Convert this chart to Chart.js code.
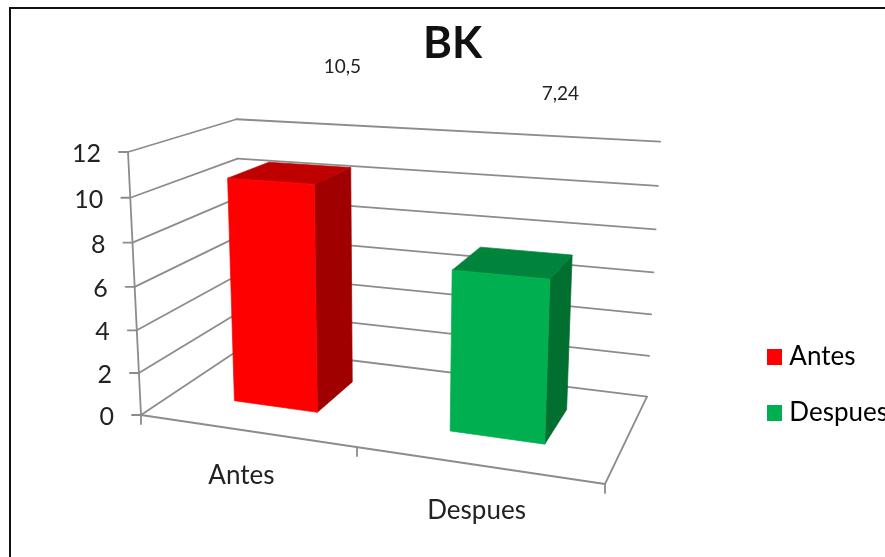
<!DOCTYPE html>
<html>
<head>
<meta charset="utf-8">
<style>
  html, body { margin: 0; padding: 0; background: #fff; overflow: hidden; }
  #wrap { position: relative; width: 885px; height: 557px; }
</style>
<script src="https://cdn.jsdelivr.net/npm/chart.js@4/dist/chart.umd.js"></script>
</head>
<body>
<div id="wrap"><canvas id="chart" width="885" height="557"></canvas></div>
<script>
// Chart content
const chartTitle = 'BK';
const categories = ['Antes', 'Despues'];
const values = [10.5, 7.24];
const axisMin = 0;
const axisMax = 12;
const axisStep = 2;

// Colours per category: front face, top face, side face
const frontColors = ['#FF0000', '#00B050'];
const topColors = ['#BE0000', '#00843C'];
const sideColors = ['#A00000', '#006F2F'];

// Offset of each free-floating value label from the centre of its bar's top face
const valueLabelOffsets = [[52, -106], [47, -169]];
// Offset of each category label from its point on the floor's front edge
const categoryLabelOffsets = [[-4, 45], [0, 46]];

const FONT = 'Lato, "Open Sans", sans-serif';
const TEXT = '#222222';
const LINE = '#8C8C8C';

// Perspective box: the plot's unit cube (u along categories, v along values,
// d into the page) is mapped to the page by a projective transform.
const box = {
  origin: [141, 415], uEnd: [605, 484], vEnd: [128, 152], dEnd: [243, 347],
  wu: 0.871, wv: 0.95, wd: 1.162
};
const barDepth = [0.30, 0.715];

function project(u, v, d) {
  const { origin: o, uEnd: a, vEnd: b, dEnd: c, wu, wv, wd } = box;
  const w = 1 + u * (wu - 1) + v * (wv - 1) + d * (wd - 1);
  const axis = i => (o[i] + u * (wu * a[i] - o[i]) + v * (wv * b[i] - o[i]) + d * (wd * c[i] - o[i])) / w;
  return [axis(0), axis(1)];
}

let plotArea = null;
const toU = px => (px - plotArea.left) / plotArea.width;
const toV = py => (plotArea.bottom - py) / plotArea.height;

function polygon(ctx, points, fill) {
  ctx.beginPath();
  points.forEach((p, i) => (i ? ctx.lineTo(p[0], p[1]) : ctx.moveTo(p[0], p[1])));
  ctx.closePath();
  ctx.fillStyle = fill;
  ctx.strokeStyle = fill;
  ctx.lineWidth = 0.7;
  ctx.lineJoin = 'round';
  ctx.fill();
  ctx.stroke();
}

function segment(ctx, p, q) {
  ctx.beginPath();
  ctx.moveTo(p[0], p[1]);
  ctx.lineTo(q[0], q[1]);
  ctx.stroke();
}

// A bar element that draws itself as a prism inside the perspective box
class PrismBar extends Chart.BarElement {
  static id = 'prismBar';
  static defaults = Chart.BarElement.defaults;
  draw(ctx) {
    const u0 = toU(this.x - this.width / 2), u1 = toU(this.x + this.width / 2);
    const v0 = toV(this.base), v1 = toV(this.y);
    const [d0, d1] = barDepth;
    const index = frontColors.indexOf(this.options.backgroundColor);
    ctx.save();
    polygon(ctx, [project(u1, v0, d0), project(u1, v0, d1), project(u1, v1, d1), project(u1, v1, d0)], sideColors[index]);
    polygon(ctx, [project(u0, v1, d0), project(u1, v1, d0), project(u1, v1, d1), project(u0, v1, d1)], topColors[index]);
    polygon(ctx, [project(u0, v0, d0), project(u1, v0, d0), project(u1, v1, d0), project(u0, v1, d0)], frontColors[index]);
    ctx.restore();
  }
}

class PrismBarController extends Chart.BarController {
  static id = 'prismBars';
  static defaults = { ...Chart.BarController.defaults, dataElementType: 'prismBar' };
}

Chart.register(PrismBar, PrismBarController);

// Small square legend marker
function legendSwatch(color) {
  const c = document.createElement('canvas');
  c.width = 15;
  c.height = 16;
  const g = c.getContext('2d');
  g.fillStyle = color;
  g.fillRect(0, 0, 15, 16);
  return c;
}

// Walls, floor, axes and their labels, all placed from the chart's scales
const perspectiveBox = {
  id: 'perspectiveBox',
  beforeDraw(chart) {
    plotArea = chart.chartArea;
    const ctx = chart.ctx;
    ctx.save();
    ctx.strokeStyle = '#111';
    ctx.lineWidth = 2;
    ctx.beginPath();
    ctx.moveTo(10, chart.height);
    ctx.lineTo(10, 8);
    ctx.lineTo(chart.width, 8);
    ctx.stroke();
    ctx.restore();
  },
  beforeDatasetsDraw(chart) {
    const ctx = chart.ctx, x = chart.scales.x, y = chart.scales.y;
    ctx.save();
    ctx.strokeStyle = LINE;
    ctx.lineWidth = 1.8;
    ctx.lineCap = 'round';
    ctx.lineJoin = 'round';

    ctx.fillStyle = TEXT;
    ctx.font = '25px ' + FONT;
    ctx.textAlign = 'right';
    ctx.textBaseline = 'middle';
    y.ticks.forEach(tick => {
      const v = toV(y.getPixelForValue(tick.value));
      const front = project(0, v, 0);
      // wall gridline: side wall, then back wall
      segment(ctx, front, project(0, v, 1));
      segment(ctx, project(0, v, 1), project(1, v, 1));
      segment(ctx, [front[0] - 9, front[1]], front);
      ctx.fillText(String(tick.value), front[0] - 27, front[1] + 2);
    });
    segment(ctx, project(0, 0, 0), project(0, 1, 0));

    // floor outline
    segment(ctx, project(0, 0, 0), project(1, 0, 0));
    segment(ctx, project(1, 0, 0), project(1, 0, 1));

    // category separators and labels
    [0, 0.5, 1].forEach(u => {
      const p = project(u, 0, 0);
      segment(ctx, p, [p[0], p[1] + 9]);
    });
    ctx.font = '26px ' + FONT;
    ctx.textAlign = 'center';
    categories.forEach((label, i) => {
      const p = project(toU(x.getPixelForValue(i)), 0, 0);
      ctx.fillText(label, p[0] + categoryLabelOffsets[i][0], p[1] + categoryLabelOffsets[i][1]);
    });
    ctx.restore();
  },
  afterDatasetsDraw(chart) {
    const ctx = chart.ctx, x = chart.scales.x, y = chart.scales.y;
    ctx.save();
    ctx.fillStyle = TEXT;
    ctx.font = '19px ' + FONT;
    ctx.textAlign = 'center';
    ctx.textBaseline = 'middle';
    values.forEach((value, i) => {
      const p = project(toU(x.getPixelForValue(i)), toV(y.getPixelForValue(value)), (barDepth[0] + barDepth[1]) / 2);
      const text = String(value).replace('.', ',');
      ctx.fillText(text, p[0] + valueLabelOffsets[i][0], p[1] + valueLabelOffsets[i][1]);
    });
    ctx.restore();
  }
};

new Chart(document.getElementById('chart'), {
  type: 'prismBars',
  plugins: [perspectiveBox],
  data: {
    labels: categories,
    datasets: [{
      data: values,
      backgroundColor: frontColors,
      barPercentage: 0.4,
      categoryPercentage: 1,
      clip: false
    }]
  },
  options: {
    responsive: false,
    animation: false,
    layout: { padding: { left: 7, right: -13, top: 17, bottom: 101 } },
    scales: {
      x: { display: false },
      y: { display: false, min: axisMin, max: axisMax, ticks: { stepSize: axisStep } }
    },
    plugins: {
      tooltip: { enabled: false },
      title: {
        display: true,
        text: chartTitle,
        color: '#111',
        font: { family: FONT, size: 44, weight: '700' },
        padding: { top: 0, bottom: 8 }
      },
      legend: {
        position: 'right',
        align: 'end',
        labels: {
          color: TEXT,
          font: { family: FONT, size: 26 },
          usePointStyle: true,
          pointStyleWidth: 3,
          padding: 30,
          generateLabels: () => categories.map((text, i) => ({
            text,
            fillStyle: frontColors[i],
            strokeStyle: frontColors[i],
            lineWidth: 0,
            pointStyle: legendSwatch(frontColors[i]),
            index: i
          }))
        }
      }
    }
  }
});
</script>
</body>
</html>
